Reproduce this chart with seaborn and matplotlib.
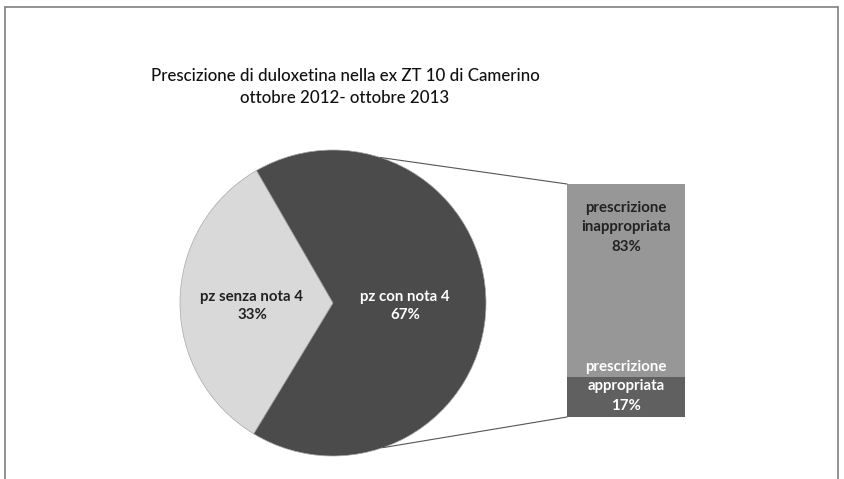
import numpy as np
import pandas as pd
import seaborn as sns
import matplotlib.pyplot as plt
from matplotlib.patches import ConnectionPatch
from matplotlib.lines import Line2D

sns.set_style('white')
plt.rcParams['font.family'] = ['Lato', 'DejaVu Sans']

title = "Prescizione di duloxetina nella ex ZT 10 di Camerino\nottobre 2012- ottobre 2013"

# pie: patients with / without nota 4
pie_labels = ['pz senza nota 4', 'pz con nota 4']
pie_values = [33, 67]
pie_colors = ['#d9d9d9', '#4b4b4b']

# bar: breakdown of "pz con nota 4"
bar_labels = ['prescrizione\nappropriata', 'prescrizione\ninappropriata']
bar_values = [17, 83]
bar_colors = ['#606060', '#979797']

LABEL_FS = 10.8

fig = plt.figure(figsize=(8.45, 4.79), dpi=100)

# frame around the chart area (bottom edge cut off in the original)
fig.add_artist(Line2D([5 / 845, 5 / 845], [0, 1 - 7 / 479], color='#808080', lw=1.2))
fig.add_artist(Line2D([5 / 845, 838 / 845], [1 - 7 / 479, 1 - 7 / 479], color='#808080', lw=1.2))
fig.add_artist(Line2D([838 / 845, 838 / 845], [0, 1 - 7 / 479], color='#808080', lw=1.2))

fig.text(345 / 845, 1 - 87 / 479, title, ha='center', va='center',
         fontsize=12.2, color='#111111', linespacing=1.4, fontweight='medium')

# pie
ax_pie = fig.add_axes([180 / 845, 23 / 479, 306 / 845, 306 / 479])
wedges, texts = ax_pie.pie(
    pie_values,
    labels=[f"{l}\n{v}%" for l, v in zip(pie_labels, pie_values)],
    colors=pie_colors,
    startangle=120,
    counterclock=True,
    labeldistance=0.5,
    wedgeprops=dict(edgecolor='#a8a8a8', linewidth=0.5),
    textprops=dict(fontsize=LABEL_FS, fontweight='bold', ha='center', va='center',
                   linespacing=1.3),
)
texts[0].set_color('#222222')
texts[0].set_position((-0.53, -0.02))
texts[1].set_color('white')
texts[1].set_position((0.47, -0.02))
ax_pie.set_xlim(-1, 1)
ax_pie.set_ylim(-1, 1)
ax_pie.set_aspect('equal')
ax_pie.axis('off')

# stacked bar
ax_bar = fig.add_axes([567 / 845, 62 / 479, 118 / 845, 233 / 479])
df_total = pd.DataFrame({'g': ['x'], 'v': [sum(bar_values)]})
df_low = pd.DataFrame({'g': ['x'], 'v': [bar_values[0]]})
sns.barplot(data=df_total, x='g', y='v', color=bar_colors[1], saturation=1,
            width=1, linewidth=0, ax=ax_bar)
sns.barplot(data=df_low, x='g', y='v', color=bar_colors[0], saturation=1,
            width=1, linewidth=0, ax=ax_bar)
ax_bar.set_xlim(-0.5, 0.5)
ax_bar.set_ylim(0, sum(bar_values))
ax_bar.axis('off')

ax_bar.text(0, 81.5, f"{bar_labels[1]}\n{bar_values[1]}%", ha='center', va='center',
            fontsize=LABEL_FS, fontweight='bold', color='#222222', linespacing=1.5)
ax_bar.text(0, 13.3, f"{bar_labels[0]}\n{bar_values[0]}%", ha='center', va='center',
            fontsize=LABEL_FS, fontweight='bold', color='white', linespacing=1.5)

# connector lines from pie to bar
for ang, yb in [(72, sum(bar_values)), (-71, 0)]:
    r = np.deg2rad(ang)
    con = ConnectionPatch(xyA=(np.cos(r), np.sin(r)), coordsA=ax_pie.transData,
                          xyB=(-0.5, yb), coordsB=ax_bar.transData,
                          color='#555555', lw=0.8)
    fig.add_artist(con)

plt.savefig('out.png', dpi=100, facecolor='white')
